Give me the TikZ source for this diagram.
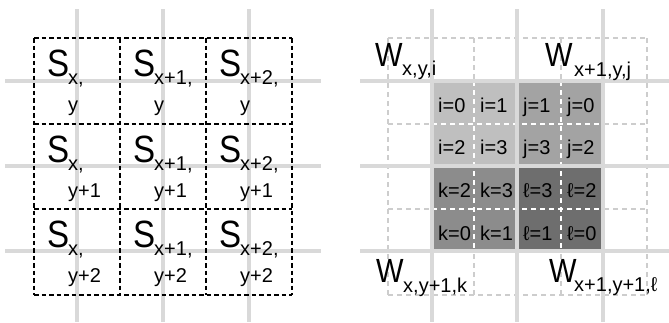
\documentclass[tikz,border=0pt]{standalone}
\usepackage{fontspec}
\usepackage{xcolor}
\usepackage{tikz}
\setmainfont{Liberation Sans}
\newfontfamily\bigfont[FakeStretch=0.87]{Liberation Sans}
\definecolor{gridgray}{RGB}{217,217,217}
\definecolor{dashgray}{RGB}{205,205,205}
\definecolor{igray}{RGB}{191,191,191}
\definecolor{jgray}{RGB}{163,163,163}
\definecolor{kgray}{RGB}{140,140,140}
\definecolor{lgray}{RGB}{110,110,110}

\begin{document}
\begin{tikzpicture}[x=1pt,y=-1pt,
  bigS/.style={anchor=base west,inner sep=0pt,font=\bigfont\fontsize{38}{38}\selectfont},
  bigW/.style={anchor=base west,inner sep=0pt,font=\bigfont\fontsize{33.5}{33.5}\selectfont},
  small/.style={anchor=base west,inner sep=0pt,font=\fontsize{20}{20}\selectfont}]
\useasboundingbox (0,0) rectangle (669,322);
% left panel
\draw[gridgray,line width=4pt] (77,9) -- (77,322);
\draw[gridgray,line width=4pt] (163,9) -- (163,322);
\draw[gridgray,line width=4pt] (249,9) -- (249,322);
\draw[gridgray,line width=4pt] (5,81) -- (321,81);
\draw[gridgray,line width=4pt] (5,166) -- (321,166);
\draw[gridgray,line width=4pt] (5,251) -- (321,251);
\draw[line width=2.2pt,dash pattern=on 4.5pt off 3pt] (34,38) -- (34,295);
\draw[line width=2.2pt,dash pattern=on 4.5pt off 3pt] (120,38) -- (120,295);
\draw[line width=2.2pt,dash pattern=on 4.5pt off 3pt] (206,38) -- (206,295);
\draw[line width=2.2pt,dash pattern=on 4.5pt off 3pt] (292,38) -- (292,295);
\draw[line width=2.2pt,dash pattern=on 4.5pt off 3pt] (34,38) -- (292,38);
\draw[line width=2.2pt,dash pattern=on 4.5pt off 3pt] (34,124) -- (292,124);
\draw[line width=2.2pt,dash pattern=on 4.5pt off 3pt] (34,209) -- (292,209);
\draw[line width=2.2pt,dash pattern=on 4.5pt off 3pt] (34,295) -- (292,295);
\node[bigS] (s11) at (47,76.5) {S};
\node[small] (s11sub) at (68,84.5) {x,};
\node[small] (s11low) at (68,111) {y};
\node[bigS] (s21) at (133,76.5) {S};
\node[small] (s21sub) at (154,84.5) {x+1,};
\node[small] (s21low) at (154,111) {y};
\node[bigS] (s31) at (219,76.5) {S};
\node[small] (s31sub) at (240,84.5) {x+2,};
\node[small] (s31low) at (240,111) {y};
\node[bigS] (s12) at (47,162.5) {S};
\node[small] (s12sub) at (68,170.5) {x,};
\node[small] (s12low) at (68,197) {y+1};
\node[bigS] (s22) at (133,162.5) {S};
\node[small] (s22sub) at (154,170.5) {x+1,};
\node[small] (s22low) at (154,197) {y+1};
\node[bigS] (s32) at (219,162.5) {S};
\node[small] (s32sub) at (240,170.5) {x+2,};
\node[small] (s32low) at (240,197) {y+1};
\node[bigS] (s13) at (47,247.5) {S};
\node[small] (s13sub) at (68,255.5) {x,};
\node[small] (s13low) at (68,282) {y+2};
\node[bigS] (s23) at (133,247.5) {S};
\node[small] (s23sub) at (154,255.5) {x+1,};
\node[small] (s23low) at (154,282) {y+2};
\node[bigS] (s33) at (219,247.5) {S};
\node[small] (s33sub) at (240,255.5) {x+2,};
\node[small] (s33low) at (240,282) {y+2};
% right panel
\draw[dashgray,line width=1.5pt,dash pattern=on 5pt off 4pt] (388,38) -- (388,295);
\draw[dashgray,line width=1.5pt,dash pattern=on 5pt off 4pt] (474,38) -- (474,295);
\draw[dashgray,line width=1.5pt,dash pattern=on 5pt off 4pt] (561,38) -- (561,295);
\draw[dashgray,line width=1.5pt,dash pattern=on 5pt off 4pt] (647,38) -- (647,295);
\draw[dashgray,line width=1.5pt,dash pattern=on 5pt off 4pt] (388,38) -- (647,38);
\draw[dashgray,line width=1.5pt,dash pattern=on 5pt off 4pt] (388,124) -- (647,124);
\draw[dashgray,line width=1.5pt,dash pattern=on 5pt off 4pt] (388,209) -- (647,209);
\draw[dashgray,line width=1.5pt,dash pattern=on 5pt off 4pt] (388,295) -- (647,295);
\fill[igray] (432,81) rectangle (517,166);
\fill[jgray] (517,81) rectangle (603,166);
\fill[kgray] (432,166) rectangle (517,251);
\fill[lgray] (517,166) rectangle (603,251);
\draw[white,line width=1.5pt,dash pattern=on 5pt off 4pt] (474,81) -- (474,251);
\draw[white,line width=1.5pt,dash pattern=on 5pt off 4pt] (561,81) -- (561,251);
\draw[white,line width=1.5pt,dash pattern=on 5pt off 4pt] (432,124) -- (603,124);
\draw[white,line width=1.5pt,dash pattern=on 5pt off 4pt] (432,209) -- (603,209);
\draw[gridgray,line width=4pt] (432,9) -- (432,322);
\draw[gridgray,line width=4pt] (517,9) -- (517,322);
\draw[gridgray,line width=4pt] (603,9) -- (603,322);
\draw[gridgray,line width=4pt] (360,81) -- (669,81);
\draw[gridgray,line width=4pt] (360,166) -- (669,166);
\draw[gridgray,line width=4pt] (360,251) -- (669,251);
\node[bigW] (wi) at (375,66) {W};
\node[small] (wisub) at (402,75) {x,y,i};
\node[bigW] (wj) at (545,66) {W};
\node[small] (wjsub) at (574,76) {x+1,y,j};
\node[bigW] (wk) at (376,282) {W};
\node[small] (wksub) at (403,292) {x,y+1,k};
\node[bigW] (wl) at (549,282) {W};
\node[small] (wlsub) at (574,291) {x+1,y+1,ℓ};
\node[small] (i0) at (438,112) {i=0};
\node[small] (i1) at (480,112) {i=1};
\node[small] (j1) at (523,112) {j=1};
\node[small] (j0) at (567,112) {j=0};
\node[small] (i2) at (438,154) {i=2};
\node[small] (i3) at (480,154) {i=3};
\node[small] (j3) at (523,154) {j=3};
\node[small] (j2) at (567,154) {j=2};
\node[small] (k2) at (438,197) {k=2};
\node[small] (k3) at (480,197) {k=3};
\node[small] (l3) at (523,197) {ℓ=3};
\node[small] (l2) at (567,197) {ℓ=2};
\node[small] (k0) at (438,240) {k=0};
\node[small] (k1) at (480,240) {k=1};
\node[small] (l1) at (523,240) {ℓ=1};
\node[small] (l0) at (567,240) {ℓ=0};
\end{tikzpicture}
\end{document}
